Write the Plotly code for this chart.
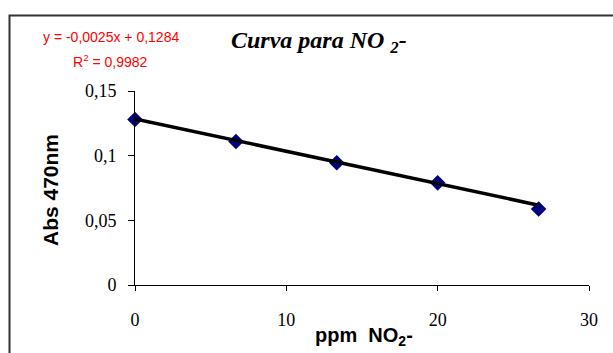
import plotly.graph_objects as go

# Data
ppm_no2 = [0, 6.67, 13.33, 20, 26.67]
abs_470 = [0.128, 0.111, 0.0945, 0.079, 0.0588]
slope = -0.0025
intercept = 0.1284
r2_text = "0,9982"
y_tickvals = [0, 0.05, 0.1, 0.15]
y_ticktext = ["0", "0,05", "0,1", "0,15"]
x_tickvals = [0, 10, 20, 30]
x_ticktext = ["0", "10", "20", "30"]

W, H = 613, 353
L, R, T, B = 135, 24, 91, 68
pw, ph = W - L - R, H - T - B

def px(xpix):
    return (xpix - L) / pw

def py(ypix):
    return (H - B - ypix) / ph

fit_x = [min(ppm_no2), max(ppm_no2)]
fit_y = [slope * v + intercept for v in fit_x]

fig = go.Figure()
fig.add_trace(go.Scatter(
    x=ppm_no2, y=abs_470, mode="markers",
    marker=dict(symbol="diamond", size=12, color="#000080"),
    cliponaxis=False, showlegend=False))
fig.add_trace(go.Scatter(
    x=fit_x, y=fit_y, mode="lines",
    line=dict(color="black", width=3.5),
    cliponaxis=False, showlegend=False))

tick_font = dict(family="Liberation Serif, Times New Roman, serif", size=18, color="black")
fig.update_xaxes(range=[0, 30], tickvals=x_tickvals, ticktext=x_ticktext,
                 showline=True, linecolor="black", linewidth=1,
                 ticks="outside", ticklen=5, tickcolor="black",
                 showgrid=False, zeroline=False, tickfont=tick_font,
                 ticklabelstandoff=13)
fig.update_yaxes(range=[0, 0.15], tickvals=y_tickvals, ticktext=y_ticktext,
                 showline=True, linecolor="black", linewidth=1,
                 ticks="outside", ticklen=6, tickcolor="black",
                 showgrid=False, zeroline=False, tickfont=tick_font,
                 ticklabelstandoff=8)

annots = [
    dict(text="<i><b>Curva para NO <sub>2</sub>-</b></i>", x=px(319), y=py(42),
         font=dict(family="Liberation Serif, Times New Roman, serif", size=24, color="black")),
    dict(text="y = -0,0025x + 0,1284", x=px(110.5), y=py(37),
         font=dict(family="Liberation Sans, Arial, sans-serif", size=14, color="#ff0000")),
    dict(text="R<sup>2</sup> = " + r2_text, x=px(110.5), y=py(61),
         font=dict(family="Liberation Sans, Arial, sans-serif", size=14, color="#ff0000")),
    dict(text="<b>Abs 470nm</b>", x=px(50), y=py(190), textangle=-90,
         font=dict(family="Liberation Sans, Arial, sans-serif", size=21, color="black")),
    dict(text="<b>ppm  NO<sub>2</sub>-</b>", x=px(364), y=py(336),
         font=dict(family="Liberation Sans, Arial, sans-serif", size=20, color="black")),
]
for a in annots:
    a.update(xref="paper", yref="paper", xanchor="center", yanchor="middle", showarrow=False)

fig.update_layout(
    width=W, height=H, margin=dict(l=L, r=R, t=T, b=B, autoexpand=False),
    paper_bgcolor="white", plot_bgcolor="white",
    separators=",.",
    annotations=annots,
    shapes=[dict(type="rect", xref="paper", yref="paper",
                 x0=px(9.5), x1=px(640), y0=py(380), y1=py(15.5),
                 line=dict(color="#333333", width=2), fillcolor="rgba(0,0,0,0)", layer="below")],
)

fig.write_html("out.html", config={"displayModeBar": False},
               post_script="document.body.style.margin='0';document.body.style.overflow='hidden';")
